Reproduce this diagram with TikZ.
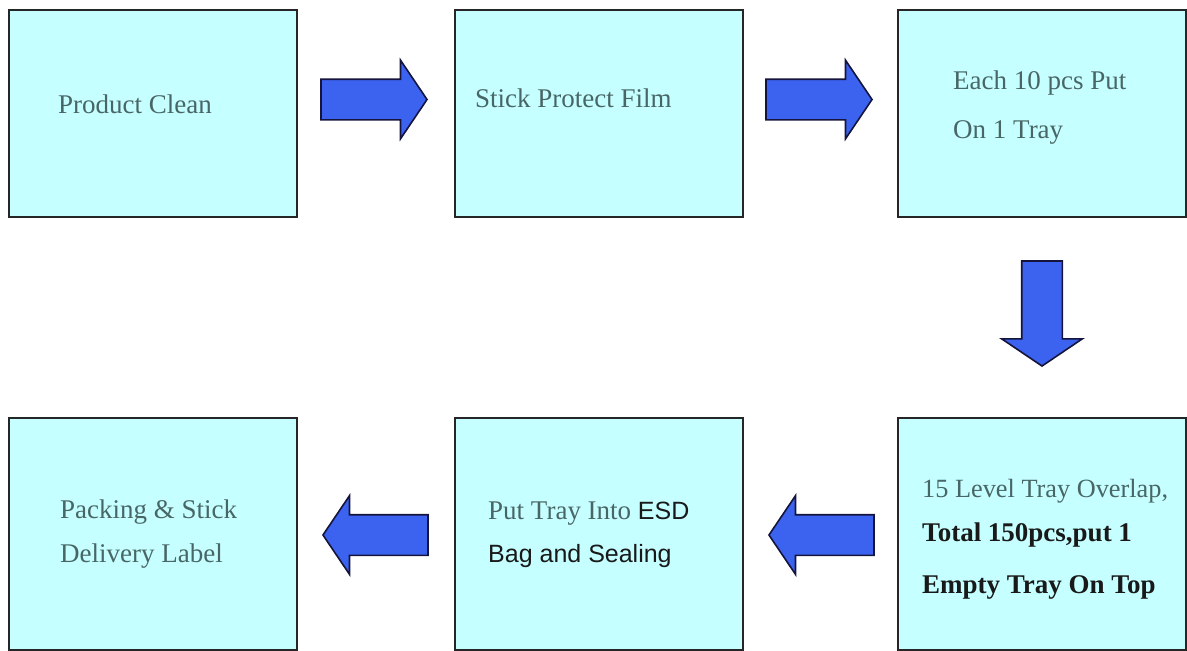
\documentclass[tikz,border=0pt]{standalone}
\usepackage{fontspec}
\setmainfont{Liberation Serif}
\newfontfamily\arialfont{Liberation Sans}
\usetikzlibrary{shapes.arrows}

\definecolor{boxfill}{RGB}{198,255,255}
\definecolor{stepgray}{RGB}{72,102,102}
\definecolor{arrowblue}{RGB}{59,99,240}
\definecolor{arrowline}{RGB}{20,20,60}

\tikzset{
  stepbox/.style={draw=black!85,line width=2pt,fill=boxfill,
    minimum width=288pt,minimum height=207pt,anchor=north west,inner sep=0pt},
  tallbox/.style={stepbox,minimum height=232pt},
  steptext/.style={anchor=base west,inner sep=0pt,
    font=\fontsize{27}{27}\selectfont,text=stepgray},
  darktext/.style={steptext,text=black!90},
  sanstext/.style={steptext,text=black!90,font=\arialfont\fontsize{25}{25}\selectfont},
  bigarrow/.style={single arrow,draw=arrowline,line width=1.6pt,fill=arrowblue,
    minimum height=106pt,minimum width=77pt,inner xsep=0pt,inner ysep=19.5pt,
    single arrow head extend=19pt,single arrow tip angle=112,anchor=tip}
}

\begin{document}
\begin{tikzpicture}[x=1pt,y=-1pt]
  \useasboundingbox (0,0) rectangle (1187,651);

  % top row
  \node[stepbox] (clean) at (8,9) {};
  \node[stepbox] (film)  at (454,9) {};
  \node[stepbox] (tray)  at (897,9) {};

  \node[steptext] (cleantext) at (58,113) {Product Clean};
  \node[steptext] (filmtext)  at (475,107) {Stick Protect Film};
  \node[steptext] (traytexta) at (953,89) {Each 10 pcs Put};
  \node[steptext] (traytextb) at (953,138) {On 1 Tray};

  % bottom row
  \node[tallbox] (label)   at (8,417) {};
  \node[tallbox] (bag)     at (454,417) {};
  \node[tallbox] (overlap) at (897,417) {};

  \node[steptext,font=\fontsize{26.3}{27}\selectfont] (overlaptexta) at (922,497) {15 Level Tray Overlap,};
  \node[darktext] (overlaptextb) at (922,541) {\bfseries Total 150pcs,put 1};
  \node[darktext] (overlaptextc) at (922,593) {\bfseries Empty Tray On Top};

  \node[steptext] (bagtexta) at (488,519) {Put Tray Into {\color{black!90}\arialfont\fontsize{25}{25}\selectfont ESD}};
  \node[sanstext] (bagtextb) at (488,562) {Bag and Sealing};

  \node[steptext] (labeltexta) at (60,518) {Packing \& Stick};
  \node[steptext] (labeltextb) at (60,562) {Delivery Label};

  % block arrows
  \node[bigarrow] (cleantofilm) at (428,99.5) {};
  \node[bigarrow] (filmtotray)  at (873,99.5) {};
  \node[bigarrow,rotate=-90,minimum height=105pt,minimum width=80pt,
    single arrow head extend=20pt,single arrow tip angle=112] (traytooverlap) at (1042,367) {};
  \node[bigarrow,rotate=180,minimum height=105pt] (overlaptobag) at (768,535) {};
  \node[bigarrow,rotate=180,minimum height=105pt] (bagtolabel)   at (322,535) {};
\end{tikzpicture}
\end{document}
